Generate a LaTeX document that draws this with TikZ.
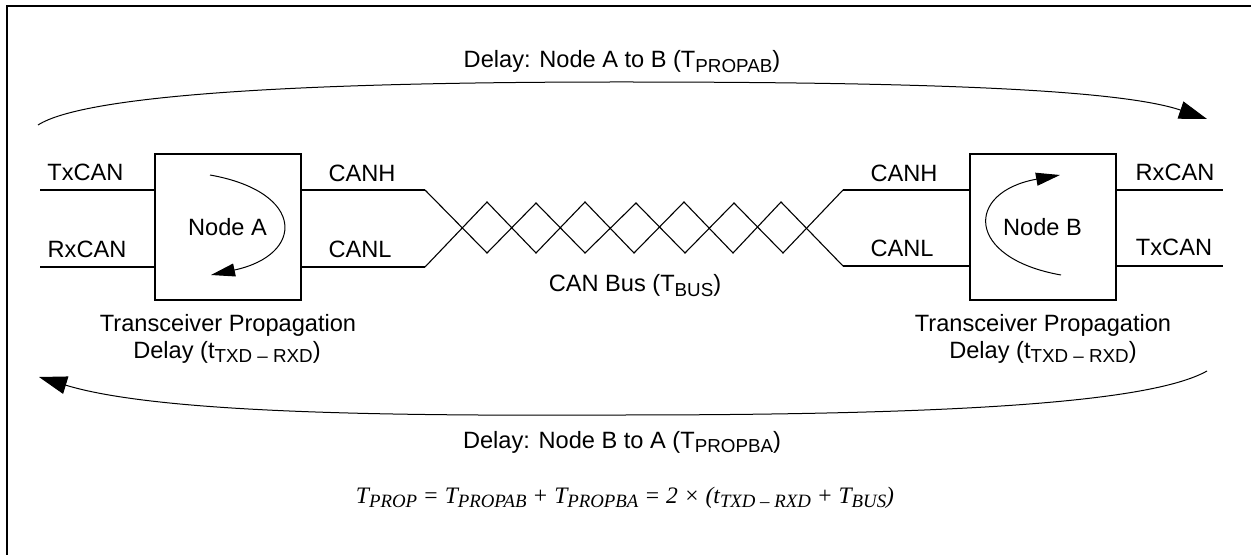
\documentclass[tikz,border=0pt]{standalone}
\usepackage{fontspec}
\setmainfont{Liberation Sans}
\newfontfamily\formulafont{Liberation Serif}
\usetikzlibrary{arrows.meta}
\newcommand{\lowsub}[1]{\raisebox{-2.4pt}{\fontsize{9.4}{11}\selectfont #1}}
\tikzset{
    lead/.style={line width=1pt},
    wire/.style={line width=0.55pt},
    arc/.style={line width=0.5pt},
    bighead/.style={-{Triangle[length=14pt,width=9pt]}},
    smallhead/.style={-{Triangle[length=12pt,width=6.5pt]}},
    nodebox/.style={draw,line width=1pt,minimum size=73pt,inner sep=0pt},
    lbl/.style={anchor=base,inner sep=0pt,align=center}
}
\begin{document}
\begin{tikzpicture}[x=0.5pt,y=-0.5pt,every node/.style={font=\fontsize{11.8}{13.5}\selectfont}]
    \useasboundingbox (0,0) rectangle (1251,555);
    \coordinate (frameB) at (6.5,555);
    \coordinate (frameC) at (6.5,6);
    \coordinate (frameR) at (1251,6);
    \draw[lead] (frameB) -- (frameC) -- (frameR);

    \node[nodebox] (nodeA) at (227.5,227.5) {Node A};
    \node[nodebox] (nodeB) at (1042.5,227.5) {Node B};

    % leads
    \coordinate (txA) at (40,190);
    \coordinate (rxA) at (40,267);
    \coordinate (hA) at (425,190);
    \coordinate (lA) at (425,267);
    \coordinate (hB) at (843,190);
    \coordinate (lB) at (843,266);
    \coordinate (rxB) at (1223,190);
    \coordinate (txB) at (1223,266);
    \draw[lead] (txA) -- (txA -| nodeA.west);
    \draw[lead] (rxA) -- (rxA -| nodeA.west);
    \draw[lead] (hA -| nodeA.east) -- (hA);
    \draw[lead] (lA -| nodeA.east) -- (lA);
    \draw[lead] (hB) -- (hB -| nodeB.west);
    \draw[lead] (lB) -- (lB -| nodeB.west);
    \draw[lead] (rxB -| nodeB.east) -- (rxB);
    \draw[lead] (txB -| nodeB.east) -- (txB);

    % twisted pair
    \draw[wire] (hA) -- (487,253) -- (536,203) -- (585,253) -- (636,203) -- (685,253) -- (734,203) -- (783,253) -- (hB);
    \draw[wire] (lA) -- (487,202) -- (536,253) -- (585,202) -- (634,253) -- (684,202) -- (733,253) -- (781,202) -- (lB);

    % delays
    \coordinate (topL) at (38,125);
    \coordinate (topM) at (620,82);
    \coordinate (topR) at (1207,119);
    \coordinate (botR) at (1207,371);
    \coordinate (botM) at (620,415);
    \coordinate (botL) at (39,377);
    \draw[arc,bighead] (topL) .. controls (85,95) and (300,82) .. (topM) .. controls (900,82) and (1115,88) .. (topR);
    \draw[arc,bighead] (botR) .. controls (1150,403) and (950,415) .. (botM) .. controls (400,416) and (160,414) .. (botL);

    \coordinate (loopAs) at (210,175);
    \coordinate (loopAe) at (211,275);
    \coordinate (loopBs) at (1061,275);
    \coordinate (loopBe) at (1060,175);
    \draw[arc,smallhead] (loopAs) .. controls (306,192) and (305,255) .. (loopAe);
    \draw[arc,smallhead] (loopBs) .. controls (965,258) and (965,192) .. (loopBe);

    % labels
    \node[lbl] (delayAB) at (622,68) {Delay: Node A to B (T\lowsub{PROPAB})};
    \node[lbl] (txAl) at (85.5,181) {TxCAN};
    \node[lbl] (rxAl) at (87,258) {RxCAN};
    \node[lbl] (hAl) at (362,181.5) {CANH};
    \node[lbl] (lAl) at (360,258) {CANL};
    \node[lbl] (hBl) at (904,181.5) {CANH};
    \node[lbl] (lBl) at (902,257) {CANL};
    \node[lbl] (rxBl) at (1175,181) {RxCAN};
    \node[lbl] (txBl) at (1174,256) {TxCAN};
    \node[lbl] (transA) at (228,331) {Transceiver Propagation};
    \node[lbl] (propA) at (227,358) {Delay (t\lowsub{TXD – RXD})};
    \node[lbl] (transB) at (1043,331) {Transceiver Propagation};
    \node[lbl] (propB) at (1043,358) {Delay (t\lowsub{TXD – RXD})};
    \node[lbl] (busl) at (635,292) {CAN Bus (T\lowsub{BUS})};
    \node[lbl] (delayBA) at (622,448) {Delay: Node B to A (T\lowsub{PROPBA})};
    \node[lbl] (formula) at (625,503) {\formulafont\itshape T\lowsub{PROP} = T\lowsub{PROPAB} + T\lowsub{PROPBA} = 2 × (t\lowsub{TXD – RXD} + T\lowsub{BUS})};
\end{tikzpicture}
\end{document}
